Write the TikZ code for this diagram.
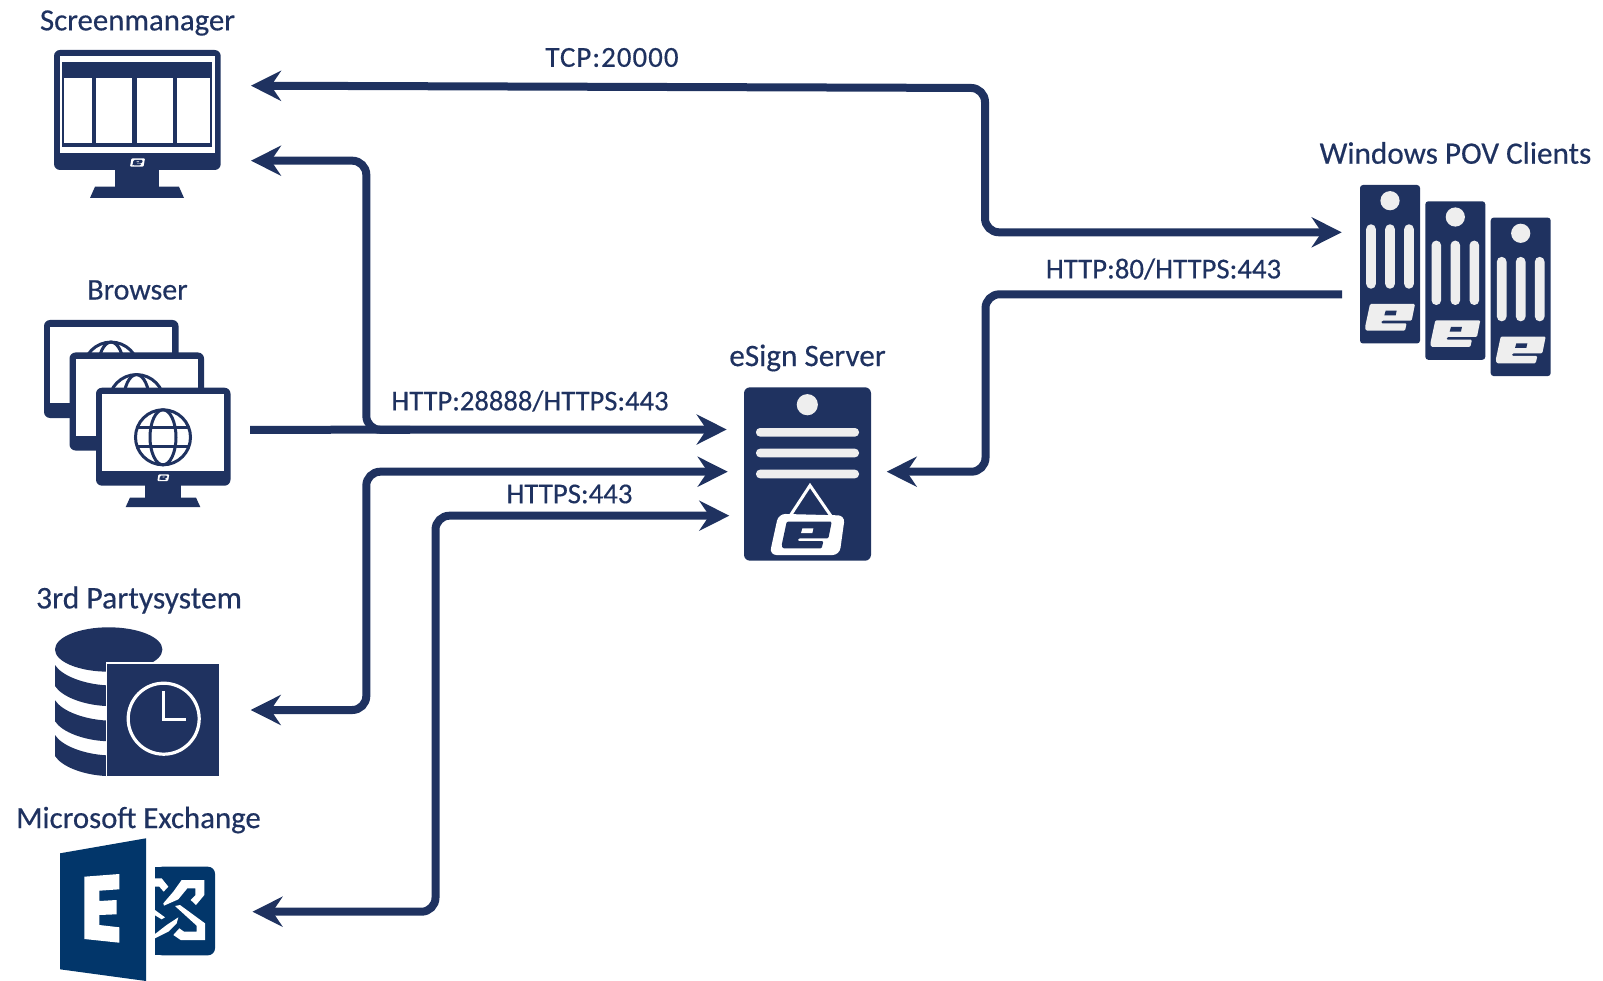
\documentclass[tikz,border=0pt]{standalone}
\usepackage{fontspec}
\setmainfont{Carlito}
\newfontfamily\semi[FakeBold=0.4]{Carlito}
\newfontfamily\semiwide[FakeBold=0.4,LetterSpace=3.4]{Carlito}
\usetikzlibrary{arrows.meta}
\definecolor{navy}{HTML}{1F3260}
\definecolor{exch}{HTML}{02366A}
\definecolor{lite}{HTML}{EEEEEE}
\newcommand{\eLogoShape}[2]{%
  \fill[#1,rounded corners=1.2pt] (15,0)--(150,0)--(140,50)--(50,50)--(48,58)--(125,58)--(120,80)--(3,80)--(0,70)--cycle;
  \fill[#2] (62,20)--(95,20)--(92,34)--(58,34)--cycle;
}
\newcommand{\srvBox}[2]{%
  \begin{scope}[shift={(#1,#2)}]
    \fill[navy,rounded corners=3pt] (0,0) rectangle (60,158.5);
    \fill[lite] (30,15.7) circle[radius=9.6];
    \foreach \sx in {11,30,49}{\fill[lite,rounded corners=4.7pt] (\sx-4.8,39.3) rectangle (\sx+4.8,103.7);}
    \begin{scope}[shift={(5,119)},scale=1/3]\eLogoShape{lite}{navy}\end{scope}
  \end{scope}
}
\newcommand{\smallLogo}[3]{%
  \begin{scope}[shift={(#1,#2)},scale=#3]
    \fill[white,rounded corners=1pt] (1.5,0)--(15,0)--(13.5,8.4)--(0,8.4)--cycle;
    \begin{scope}[shift={(2.6,1.6)},scale=0.068]\eLogoShape{navy}{white}\end{scope}
  \end{scope}
}
\newcommand{\brMon}[3]{%
  \begin{scope}[shift={(#1,#2)}]
    \fill[navy,rounded corners=6pt] (0,0) rectangle (134.5,98);
    \fill[white] (6.3,6.6) rectangle (128,#3);
    \draw[navy,line width=3pt] (67,49.6) circle[radius=27.5];
    \draw[navy,line width=3pt] (67,49.6) ellipse[x radius=13,y radius=27.5];
    \draw[navy,line width=3pt] (41.2,40.1) -- (92.8,40.1) (41.5,58.3) -- (92.5,58.3);
  \end{scope}
}
\begin{document}
\begin{tikzpicture}[x=1pt,y=-1pt,
  lbl/.style={text=navy,inner sep=0pt,anchor=center},
  wire/.style={draw=navy,line width=8pt,rounded corners=14pt,
    >={Stealth[length=30pt,width=30pt,inset=10pt]}},
  iconbox/.style={inner sep=0pt,anchor=north west}]
\useasboundingbox (0,0) rectangle (1603,981);

% ---- Screenmanager
\node[iconbox,minimum width=167pt,minimum height=148pt] (screen) at (54,50) {};
\fill[navy] (115,165) rectangle (159.3,187);
\fill[navy] (95,186.7)--(179,186.7)--(184,198)--(90,198)--cycle;
\fill[navy,rounded corners=6pt] (54,50) rectangle (220.7,170);
\fill[white] (60,56) rectangle (215,153.3);
\fill[navy] (61.7,61.7) rectangle (212.3,146.7);
\fill[white] (64,78.3) rectangle (91.7,143.3);
\fill[white] (96,78.3) rectangle (132.3,143.3);
\fill[white] (136.7,78.3) rectangle (173,143.3);
\fill[white] (177.3,78.3) rectangle (209.7,143.3);
\smallLogo{130}{158.3}{1}

% ---- Browser
\node[iconbox,minimum width=187pt,minimum height=187pt] (browser) at (44,320) {};
\brMon{44}{320}{83.3}
\brMon{69.5}{352.5}{83.5}
\fill[navy] (145,480) rectangle (181,498);
\fill[navy] (130,497.6)--(196,497.6)--(200.3,507)--(125.7,507)--cycle;
\brMon{96}{387.7}{83.3}
\smallLogo{157.3}{474.3}{0.8}

% ---- 3rd Party system
\node[iconbox,minimum width=164pt,minimum height=149pt] (party) at (55,627) {};
\fill[navy] (108.7,649.5) ellipse[x radius=53.7,y radius=22.2];
\foreach \dy in {0,35.2,70}{
  \fill[navy] (55,665+\dy) .. controls (62,676+\dy) and (84,684+\dy) .. (106,685.3+\dy)
    -- (106,706+\dy) .. controls (84,705+\dy) and (62,697+\dy) .. (55,686+\dy) -- cycle;
}
\fill[white] (105.5,663) rectangle (107,776);
\fill[white] (105.5,662) rectangle (220,663.5);
\fill[navy] (107,663.5) rectangle (219,775.7);
\draw[white,line width=3.2pt] (163.7,718.7) circle[radius=35.5];
\draw[white,line width=3.2pt] (163.7,691) -- (163.7,719.8) -- (186,719.8);

% ---- Microsoft Exchange
\node[iconbox,minimum width=155pt,minimum height=143pt] (exchange) at (60,838) {};
\fill[exch] (60,853.3)--(146,838.3)--(146,981)--(60,969.3)--cycle;
\fill[white] (84.3,876.7)--(119.3,874)--(119.3,889.3)--(99.3,890.7)--(99.3,901)--(116.7,900)--(116.7,914.3)--(99.3,915)--(99.3,925)--(119.3,927.3)--(119.3,942.7)--(84.3,939)--cycle;
\fill[exch,rounded corners=7pt] (155,866.7) -- (215,866.7) -- (215,955.3) -- (155,955.3) -- cycle;
\fill[exch] (155,866.7) rectangle (170,955.3);
\begin{scope}[shift={(150,860)},scale=1/3]
  \fill[white] (95,60)--(163,60)--(163,105)--(138,135)--(122,120)--(136,106)--(136,85)--(112,85)--(85,118)--(42,137)--(40,130)--(70,95)--cycle;
  \fill[white] (75,138)--(90,135)--(165,190)--(165,240)--(92,240)--(70,225)--(88,205)--(102,215)--(140,215)--(140,197)--cycle;
  \fill[white] (15,235)--(15,222)--(50,195)--(85,172)--(80,190)--(55,215)--cycle;
  \fill[white] (15,55)--(35,55)--(55,80)--(41,95)--(28,80)--(15,80)--cycle;
  \fill[white] (15,150)--(45,172)--(35,178)--(15,166)--cycle;
\end{scope}

% ---- eSign Server
\node[iconbox,minimum width=127pt,minimum height=173.4pt] (esign) at (744,387.3) {};
\fill[navy,rounded corners=6pt] (744,387.3) rectangle (871,560.7);
\fill[lite] (807.3,404.7) circle[radius=10.6];
\foreach \by in {432.3,453,474}{\fill[lite,rounded corners=4pt] (756,\by-4.3) rectangle (859,\by+4.3);}
\draw[white,line width=3pt,line join=miter] (790,516) -- (810,485.5) -- (831,516);
\fill[white,rounded corners=7pt] (778.5,513.8)--(845,515.5)--(839.5,555)--(769.5,555)--cycle;
\begin{scope}[shift={(781.7,521.7)},scale=1/3]\eLogoShape{navy}{white}\end{scope}

% ---- Windows POV Clients
\node[iconbox,minimum width=190.7pt,minimum height=191pt] (clients) at (1360,185) {};
\srvBox{1360}{185}
\srvBox{1425.3}{201.3}
\srvBox{1490.7}{217.6}

% ---- connector ends
\coordinate (smA) at (251,85.7);
\coordinate (smB) at (251,160.7);
\coordinate (brOut) at (250,429.8);
\coordinate (ptyA) at (250.7,710);
\coordinate (exA) at (252.5,911.7);
\coordinate (esA) at (726.7,429.5);
\coordinate (esB) at (727.7,471.7);
\coordinate (esC) at (729.3,515.7);
\coordinate (esD) at (886.7,471.7);
\coordinate (clA) at (1341.7,232.3);
\coordinate (clB) at (1342,294.3);
\coordinate (join) at (410,429.8);

% ---- connectors
\draw[wire,<->] (smA) -- (985,88) -- (985,232.3) -- (clA);
\draw[wire,<-] (smB) -- (366.3,160.7) -- (366.3,429.8) -- (join);
\draw[wire,->] (brOut) -- (esA);
\draw[wire,<->] (ptyA) -- (366.3,710) -- (366.3,471.7) -- (esB);
\draw[wire,<->] (exA) -- (435.5,911.7) -- (435.5,515.7) -- (esC);
\draw[wire,->] (clB) -- (985.5,294.3) -- (985.5,471.7) -- (esD);

% ---- labels
\node[lbl,font=\semi\fontsize{30.8}{34}\selectfont] (tScreen) at (137.5,23) {Screenmanager};
\node[lbl,font=\semi\fontsize{30}{34}\selectfont] (tBrowser) at (137.5,290) {Browser};
\node[lbl,font=\semi\fontsize{31.6}{34}\selectfont] (tParty) at (139,600) {3rd Partysystem};
\node[lbl,font=\semi\fontsize{30.8}{34}\selectfont] (tExch) at (138.5,820) {Microsoft Exchange};
\node[lbl,font=\semi\fontsize{31.2}{34}\selectfont] (tSign) at (807.5,358) {eSign Server};
\node[lbl,font=\semi\fontsize{31.2}{34}\selectfont] (tWin) at (1455.5,153) {Windows POV Clients};
\node[lbl,font=\semiwide\fontsize{29}{34}\selectfont] (lTcp) at (612,57.5) {TCP:20000};
\node[lbl,font=\semi\fontsize{28.8}{34}\selectfont] (lHttp) at (1163.5,269) {HTTP:80/HTTPS:443};
\node[lbl,font=\semi\fontsize{28.6}{34}\selectfont] (lBr) at (530,401) {HTTP:28888/HTTPS:443};
\node[lbl,font=\semi\fontsize{28.8}{34}\selectfont] (lHttps) at (569.5,494) {HTTPS:443};
\end{tikzpicture}
\end{document}
